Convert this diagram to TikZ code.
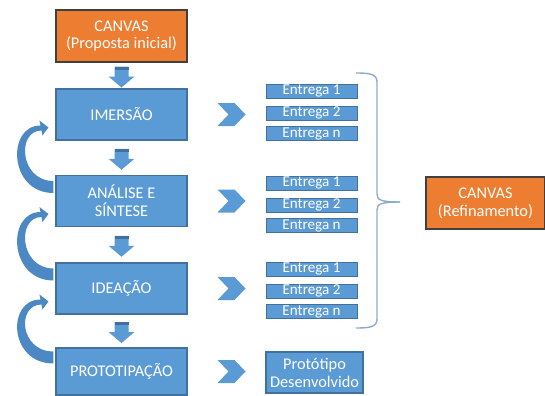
\documentclass[tikz,border=0pt]{standalone}
\usepackage{fontspec}
\setmainfont{Carlito}
\usetikzlibrary{calc}

\definecolor{boxblue}{HTML}{5B9BD5}
\definecolor{edgeblue}{HTML}{41719C}
\definecolor{boxorange}{HTML}{ED7D31}
\definecolor{edgedark}{HTML}{404040}
\definecolor{bracegray}{HTML}{8FAACC}
\definecolor{loopblue}{HTML}{4C88C4}

% block arrow pointing down, in the gap between two stages
\newcommand{\downblock}[2]{%
  \coordinate (dbmid) at ($(#1.south)!0.5!(#2.north)+(0,1)$);
  \fill[boxblue] ($(dbmid)+(-7,-10)$) -- ($(dbmid)+(7,-10)$) -- ($(dbmid)+(7,0)$) -- ($(dbmid)+(13,0)$)
      -- ($(dbmid)+(0,11)$) -- ($(dbmid)+(-13,0)$) -- ($(dbmid)+(-7,0)$) -- cycle;
  \fill[edgeblue] ($(dbmid)+(-7,-10)$) rectangle ($(dbmid)+(7,-7)$);
}
% chevron to the right of a stage
\newcommand{\chevron}[1]{%
  \coordinate (chc) at ($(#1.east)+(44,0)$);
  \fill[boxblue] ($(chc)+(-14,-11.5)$) -- ($(chc)+(3,-11.5)$) -- ($(chc)+(14,0)$)
      -- ($(chc)+(3,11.5)$) -- ($(chc)+(-14,11.5)$) -- ($(chc)+(-3,0)$) -- cycle;
}
% curved arrow going back from a stage to the one above
\newcommand{\loopback}[2]{%
  \coordinate (lbT) at ($(#1.west)+(-2,-14)$);
  \coordinate (lbH) at ($(#2.west)+(-7,13)$);
  \fill[loopblue] ($(lbT)+(0,6)$) .. controls ($(lbT)+(-45,6)$) and ($(lbH)+(-42,-2)$) .. ($(lbH)+(-8,-2)$)
      -- ($(lbH)+(-9,-7)$) -- (lbH) -- ($(lbH)+(-6,8)$) -- ($(lbH)+(-7,3)$)
      .. controls ($(lbH)+(-32,3)$) and ($(lbT)+(-34,-6)$) .. ($(lbT)+(0,-6)$) -- cycle;
}

\begin{document}
\begin{tikzpicture}[
    x=0.02cm, y=-0.02cm,
    font=\fontsize{9.3}{10.2}\selectfont,
    stage/.style={draw=edgeblue, fill=boxblue, text=white, line width=0.6pt,
        minimum width=2.62cm, minimum height=1.02cm, align=center, inner sep=1pt},
    canvasbox/.style={draw=edgedark, fill=boxorange, text=white, line width=0.6pt,
        minimum height=1.04cm, align=center, inner sep=1pt},
    deliv/.style={draw=edgeblue, fill=boxblue, text=white, line width=0.5pt,
        minimum width=1.82cm, minimum height=0.28cm, inner sep=0pt,
        font=\fontsize{8.6}{9}\selectfont, text height=5.6pt, text depth=1.6pt}
]
\useasboundingbox (0,0) rectangle (545,396);

% Stages
\node[canvasbox, minimum width=2.62cm] (canvas) at (121.5,36) {CANVAS\\(Proposta inicial)};
\node[stage] (imersao) at (121.5,114.5) {IMERSÃO};
\node[stage] (analise) at (121.5,201) {ANÁLISE E\\SÍNTESE};
\node[stage] (ideacao) at (121.5,288.5) {IDEAÇÃO};
\node[stage, minimum height=0.94cm] (prototip) at (121.5,371.5) {PROTOTIPAÇÃO};

% Down arrows
\downblock{canvas}{imersao}
\downblock{imersao}{analise}
\downblock{analise}{ideacao}
\downblock{ideacao}{prototip}

% Back arrows
\loopback{analise}{imersao}
\loopback{ideacao}{analise}
\loopback{prototip}{ideacao}

% Chevrons
\chevron{imersao}
\chevron{analise}
\chevron{ideacao}
\chevron{prototip}

% Deliverables
\node[deliv] (imA) at (311.5,91) {Entrega 1};
\node[deliv] (imB) at (311.5,113) {Entrega 2};
\node[deliv] (imN) at (311.5,133.5) {Entrega n};

\node[deliv] (anA) at (311.5,183) {Entrega 1};
\node[deliv] (anB) at (311.5,205) {Entrega 2};
\node[deliv] (anN) at (311.5,225.5) {Entrega n};

\node[deliv] (idA) at (311.5,269) {Entrega 1};
\node[deliv] (idB) at (311.5,291) {Entrega 2};
\node[deliv] (idN) at (311.5,311.5) {Entrega n};

\node[stage, minimum width=1.94cm, minimum height=0.82cm] (protodone) at (314.5,372.5) {Protótipo\\Desenvolvido};

% Brace round the deliverables
\coordinate (btop) at (356,73);
\coordinate (bbot) at (356,328);
\coordinate (btip) at (400,202);
\draw[bracegray, line width=0.8pt] (btop) .. controls (370,73) and (377,74) .. (377,82) -- (377,194)
    .. controls (377,200) and (381,202) .. (btip);
\draw[bracegray, line width=0.8pt] (bbot) .. controls (370,328) and (377,327) .. (377,319) -- (377,210)
    .. controls (377,204) and (381,202) .. (btip);

% Refined canvas
\node[canvasbox, minimum width=2.38cm] (refine) at (485.5,203) {CANVAS\\(Refinamento)};

\end{tikzpicture}
\end{document}
